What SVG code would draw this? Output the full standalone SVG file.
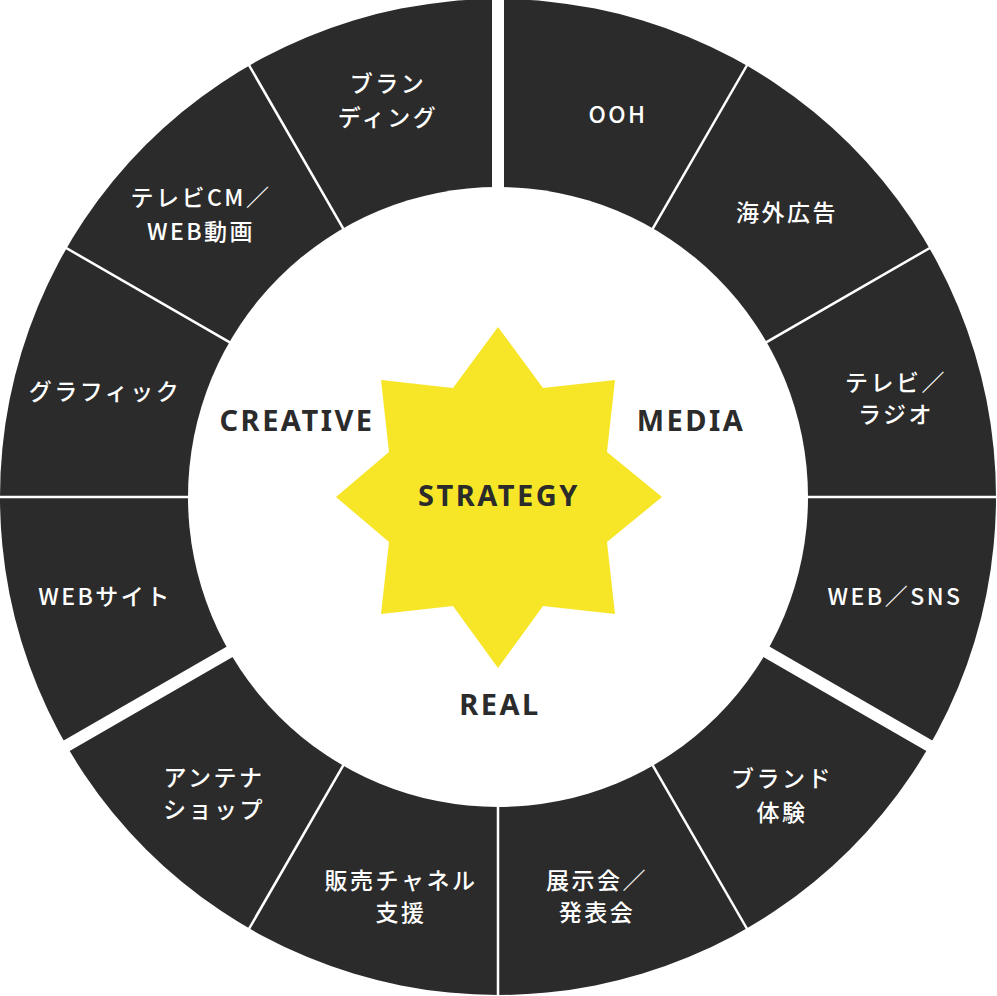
<svg xmlns="http://www.w3.org/2000/svg" width="997" height="996" viewBox="0 0 997 996">
<style>
.lbl{fill:#fff;font-family:"Noto Sans CJK JP","Noto Sans",sans-serif;font-size:23px;font-weight:500;text-anchor:middle;letter-spacing:2.5px}
.grp{fill:#2b2b2b;font-family:"Noto Sans","Noto Sans CJK JP",sans-serif;font-size:29px;font-weight:700;text-anchor:middle;letter-spacing:2.5px}
.thin{stroke:#fff;stroke-width:2.5}
.wide{stroke:#fff;stroke-width:12}
</style>
<rect width="997" height="996" fill="#fff"/>
<g id="ring">
<circle cx="498" cy="497" r="498" fill="#2b2b2b"/>
</g>
<g id="connectors">
<line class="wide" x1="498" y1="497" x2="498" y2="-5"/>
<line class="thin" x1="498" y1="497" x2="750" y2="60"/>
<line class="thin" x1="498" y1="497" x2="935" y2="245"/>
<line class="thin" x1="498" y1="497" x2="1000" y2="497"/>
<line class="wide" x1="498" y1="497" x2="935" y2="749"/>
<line class="thin" x1="498" y1="497" x2="750" y2="934"/>
<line class="thin" x1="498" y1="497" x2="498" y2="1000"/>
<line class="thin" x1="498" y1="497" x2="246" y2="934"/>
<line class="wide" x1="498" y1="497" x2="61" y2="749"/>
<line class="thin" x1="498" y1="497" x2="-5" y2="497"/>
<line class="thin" x1="498" y1="497" x2="61" y2="245"/>
<line class="thin" x1="498" y1="497" x2="246" y2="60"/>
</g>
<circle cx="498" cy="497" r="310" fill="#fff"/>
<g id="star">
<polygon fill="#f7e627" points="498,327 543,388 615,380 607,452 662,497 607,542 615,614 543,606 498,668 453,606 381,614 389,542 336,497 389,452 381,380 453,388"/>
<text class="grp" x="499" y="506" font-size="28">STRATEGY</text>
</g>
<g id="groups">
<text class="grp" x="297" y="431">CREATIVE</text>
<text class="grp" x="691" y="431">MEDIA</text>
<text class="grp" x="500" y="715">REAL</text>
</g>
<g id="n-ooh"><text class="lbl" x="618" y="123">OOH</text></g>
<g id="n-kaigai"><text class="lbl" x="787" y="221">海外広告</text></g>
<g id="n-tv"><text class="lbl" x="896" y="391">テレビ／</text><text class="lbl" x="896" y="423">ラジオ</text></g>
<g id="n-web"><text class="lbl" x="895" y="605">WEB／SNS</text></g>
<g id="n-brandex"><text class="lbl" x="782" y="787">ブランド</text><text class="lbl" x="782" y="821">体験</text></g>
<g id="n-tenji"><text class="lbl" x="597" y="889">展示会／</text><text class="lbl" x="597" y="921">発表会</text></g>
<g id="n-hanbai"><text class="lbl" x="401" y="889">販売チャネル</text><text class="lbl" x="401" y="921">支援</text></g>
<g id="n-antenna"><text class="lbl" x="214" y="786">アンテナ</text><text class="lbl" x="214" y="818">ショップ</text></g>
<g id="n-website"><text class="lbl" x="105" y="605">WEBサイト</text></g>
<g id="n-graphic"><text class="lbl" x="105" y="400">グラフィック</text></g>
<g id="n-tvcm"><text class="lbl" x="201" y="206">テレビCM／</text><text class="lbl" x="201" y="240">WEB動画</text></g>
<g id="n-branding"><text class="lbl" x="388" y="92">ブラン</text><text class="lbl" x="388" y="126">ディング</text></g>
</svg>
